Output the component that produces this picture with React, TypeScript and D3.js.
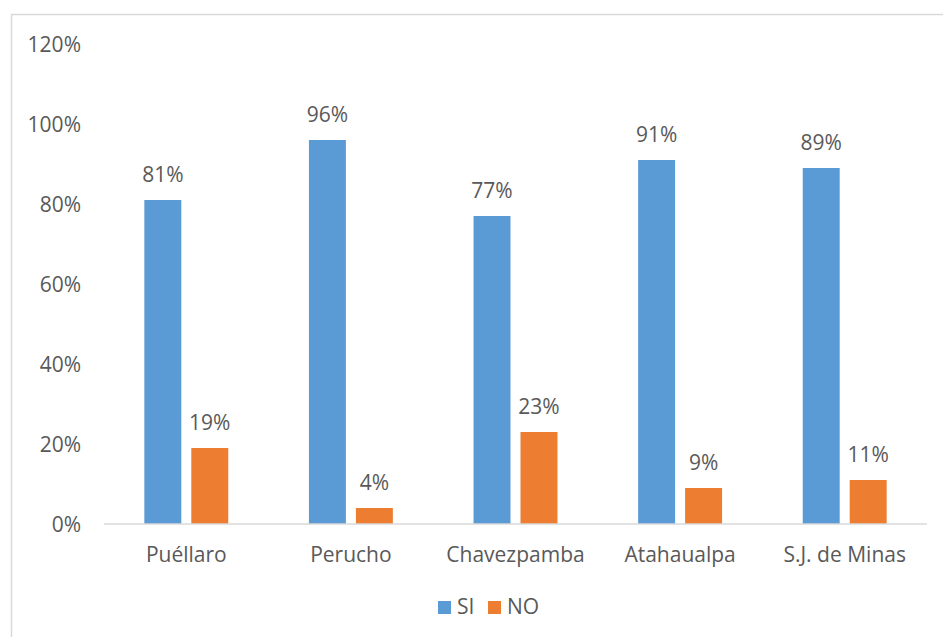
import React from "react";
import * as d3 from "d3";

const categories = ["Puéllaro", "Perucho", "Chavezpamba", "Atahaualpa", "S.J. de Minas"];
const seriesNames = ["SI", "NO"];
const siValues = [0.81, 0.96, 0.77, 0.91, 0.89];
const noValues = [0.19, 0.04, 0.23, 0.09, 0.11];
const yTicks = [0, 0.2, 0.4, 0.6, 0.8, 1.0, 1.2];
const colors = ["#5B9BD5", "#ED7D31"];

const W = 943;
const H = 637;
const FONT = "'Open Sans', 'Noto Sans', sans-serif";
const TEXT = "#595959";
const FS = 21;

export default function App() {
  const x0 = d3.scaleBand<string>().domain(categories).range([104, 927]).paddingInner(0.49).paddingOuter(0.245);
  const x1 = d3.scaleBand<string>().domain(seriesNames).range([0, x0.bandwidth()]).paddingInner(0.213).paddingOuter(0);
  const y = d3.scaleLinear().domain([0, 1.2]).range([524, 44]);
  const fmt = d3.format(".0%");
  const values = [siValues, noValues];

  return (
    <svg width={W} height={H} style={{ position: "absolute", left: 0, top: 0, background: "#fff" }} fontFamily={FONT}>
      <rect x={11.5} y={14.5} width={W + 20} height={H + 20} fill="#fff" stroke="#D9D9D9" strokeWidth={1.5} />
      {yTicks.map((t) => (
        <text key={t} x={81} y={y(t)} textAnchor="end" dominantBaseline="central" fontSize={FS} fill={TEXT}>
          {fmt(t)}
        </text>
      ))}
      {categories.map((c, i) => (
        <g key={c} transform={`translate(${x0(c)},0)`}>
          {seriesNames.map((s, si) => {
            const v = values[si][i];
            const bx = x1(s)!;
            return (
              <g key={s}>
                <rect x={bx} y={y(v)} width={x1.bandwidth()} height={y(0) - y(v)} fill={colors[si]} />
                <text x={bx + x1.bandwidth() / 2} y={y(v) - 18} textAnchor="middle" fontSize={FS} fill={TEXT}>
                  {fmt(v)}
                </text>
              </g>
            );
          })}
        </g>
      ))}
      <line x1={104} x2={927} y1={y(0)} y2={y(0)} stroke="#D9D9D9" strokeWidth={1.5} />
      {categories.map((c) => (
        <text key={c} x={x0(c)! + x0.bandwidth() / 2} y={562} textAnchor="middle" fontSize={FS} fill={TEXT}>
          {c}
        </text>
      ))}
      <g>
        <rect x={438} y={601} width={13} height={13} fill={colors[0]} />
        <text x={457} y={614} fontSize={FS} fill={TEXT}>{seriesNames[0]}</text>
        <rect x={488} y={601} width={13} height={13} fill={colors[1]} />
        <text x={507} y={614} fontSize={FS} fill={TEXT}>{seriesNames[1]}</text>
      </g>
    </svg>
  );
}
